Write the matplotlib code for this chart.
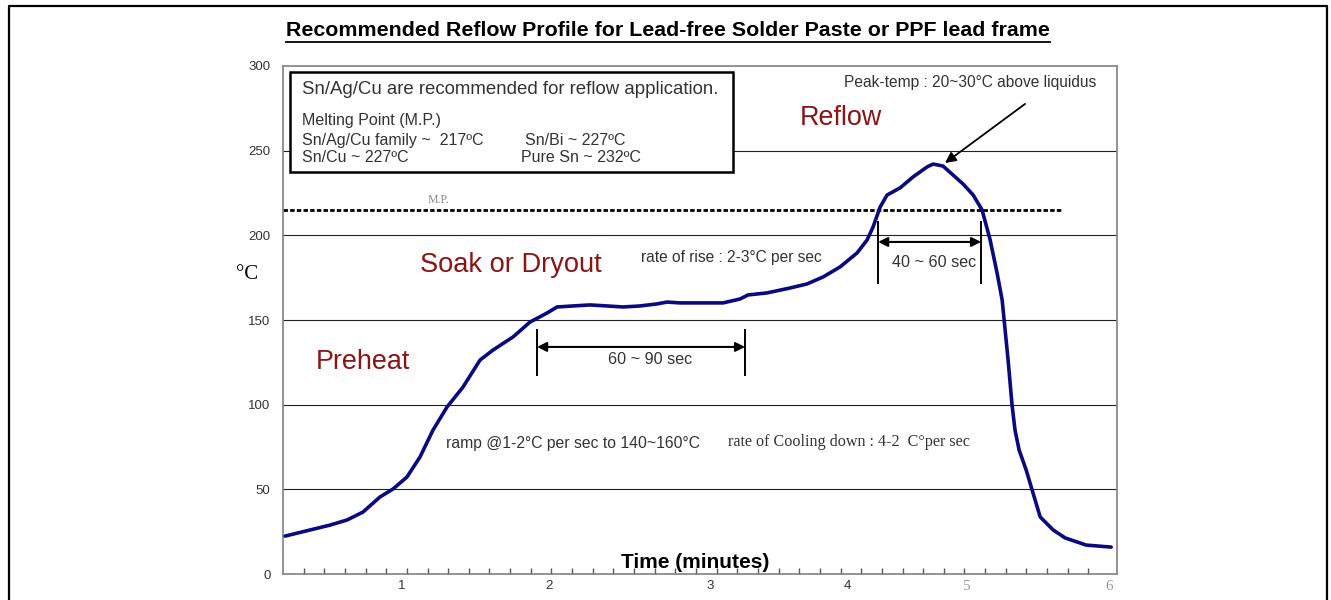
"""
Recommended reflow profile for lead-free solder paste / PPF lead frame.
"""

import numpy as np
import matplotlib
matplotlib.use("Agg")
import matplotlib.pyplot as plt
from matplotlib.patches import Rectangle
from matplotlib.lines import Line2D

plt.rcParams["font.family"] = ["Liberation Sans", "DejaVu Sans"]

# profile: time (minutes) vs temperature (degC)
time_min = [0.173, 0.491, 0.611, 0.724, 0.844, 0.936, 1.035, 1.127, 1.219, 1.318,
            1.431, 1.552, 1.644, 1.785, 1.905, 2.025, 2.096, 2.209, 2.329, 2.450,
            2.563, 2.683, 2.803, 2.874, 2.966, 3.157, 3.270, 3.390, 3.447, 3.581,
            3.744, 3.864, 3.977, 4.097, 4.218, 4.289, 4.331, 4.381, 4.430, 4.522,
            4.614, 4.713, 4.756, 4.826, 4.897, 4.968, 5.039, 5.102, 5.159, 5.208,
            5.244, 5.258, 5.286, 5.314, 5.335, 5.364, 5.414, 5.456, 5.513, 5.605,
            5.690, 5.838, 6.015]
temp_c = [22.4, 28.9, 31.9, 36.6, 45.5, 50.2, 57.3, 69.1, 85.0, 98.6,
          110.4, 126.4, 132.3, 140.0, 148.8, 154.1, 157.7, 158.3, 158.9, 158.3,
          157.7, 158.3, 159.5, 160.6, 160.1, 160.1, 160.1, 162.4, 164.8, 166.0,
          168.9, 171.3, 175.4, 181.3, 189.6, 197.3, 204.9, 216.7, 223.8, 228.0,
          234.5, 240.4, 242.1, 240.9, 235.6, 230.3, 223.8, 215.0, 197.3, 177.8,
          161.8, 150.0, 126.4, 99.8, 85.0, 73.2, 61.4, 49.6, 33.7, 26.0,
          21.3, 17.1, 15.9]

melting_point = 215
y_ticks = [0, 50, 100, 150, 200, 250, 300]
x_tick_pos = [1.0, 2.04, 3.18, 4.147, 4.989, 6.0]
x_tick_labels = ["1", "2", "3", "4", "5", "6"]

DARK = "#333333"
RED = "#8B1414"
NAVY = "#0A0A80"

fig = plt.figure(figsize=(13.31, 6.0), dpi=100)
ax = fig.add_axes([0.2126, 0.0433, 0.6266, 0.8467])

xmin, xmax = 0.158, 6.056
ax.set_xlim(xmin, xmax)
ax.set_ylim(0, 300)

for s in ax.spines.values():
    s.set_color("#808080")
    s.set_linewidth(1.2)

ax.set_yticks(y_ticks)
ax.set_yticklabels([str(v) for v in y_ticks], color=DARK, fontsize=9.5)
ax.tick_params(axis="y", length=0, pad=9)
for v in y_ticks[1:-1]:
    ax.axhline(v, color="#222222", lw=0.8, zorder=1)

ax.set_xticks(x_tick_pos)
ax.set_xticklabels(x_tick_labels)
ax.set_xticks(np.linspace(xmin, 6.0, 41)[1:], minor=True)
ax.tick_params(axis="x", which="major", length=0, pad=4, labelsize=9.5, labelcolor=DARK)
ax.tick_params(axis="x", which="minor", direction="in", length=4, width=1, color="#555555")
for lbl in ax.get_xticklabels()[4:]:
    lbl.set_family("Liberation Serif")
    lbl.set_color("#9a9a9a")
    lbl.set_fontsize(11)

# melting point line
ax.plot([xmin, 5.668], [melting_point, melting_point], color="black", lw=2,
        linestyle=(0, (1.6, 0.8)), zorder=2)
ax.text(1.255, 221, "M.P.", family="Liberation Serif", color="#888888",
        fontsize=8.5, ha="center", va="center")

# profile curve
ax.plot(time_min, temp_c, color=NAVY, lw=2.6, zorder=4, solid_capstyle="round")

# info box
ax.add_patch(Rectangle((0.209, 237.4), 3.131, 59.1, fc="white", ec="black",
                       lw=1.8, zorder=3))
ax.text(0.293, 286.4, "Sn/Ag/Cu are recommended for reflow application.",
        fontsize=13.4, color=DARK, va="center", zorder=5)
ax.text(0.293, 268.1, "Melting Point (M.P.)", fontsize=11.5, color=DARK, va="center", zorder=5)
ax.text(0.293, 256.3, "Sn/Ag/Cu family ~  217ºC", fontsize=11.5, color=DARK, va="center", zorder=5)
ax.text(0.293, 245.7, "Sn/Cu ~ 227ºC", fontsize=11.5, color=DARK, va="center", zorder=5)
ax.text(1.868, 256.3, "Sn/Bi ~ 227ºC", fontsize=11.5, color=DARK, va="center", zorder=5)
ax.text(1.843, 245.7, "Pure Sn ~ 232ºC", fontsize=11.5, color=DARK, va="center", zorder=5)

# phase names
ax.text(4.104, 269.3, "Reflow", fontsize=19.4, color=RED, ha="center", va="center")
ax.text(1.767, 182.5, "Soak or Dryout", fontsize=19.6, color=RED, ha="center", va="center")
ax.text(0.724, 125.2, "Preheat", fontsize=19.4, color=RED, ha="center", va="center")

# notes
ax.text(5.017, 290.0, "Peak-temp : 20~30°C above liquidus", fontsize=11.2,
        color=DARK, ha="center", va="center")
ax.annotate("", xy=(4.840, 242.7), xytext=(5.406, 277.6),
            arrowprops=dict(arrowstyle="-|>", color="black", lw=1.3,
                            mutation_scale=16, shrinkA=0, shrinkB=0))
ax.text(3.326, 187.2, "rate of rise : 2-3°C per sec", fontsize=11.2,
        color=DARK, ha="center", va="center")
ax.text(2.209, 76.8, "ramp @1-2°C per sec to 140~160°C", fontsize=11.3,
        color=DARK, ha="center", va="center")
ax.text(4.161, 78.0, "rate of Cooling down : 4-2  C°per sec", fontsize=11.6,
        family="Liberation Serif", color=DARK, ha="center", va="center")

# duration markers
def span(x0, x1, y, ybar, label, xlab, ylab):
    ax.annotate("", xy=(x0, y), xytext=(x1, y),
                arrowprops=dict(arrowstyle="<|-|>", color="black", lw=1.5,
                                mutation_scale=14, shrinkA=0, shrinkB=0))
    for xb in (x0, x1):
        ax.plot([xb, xb], ybar, color="black", lw=1.4)
    ax.text(xlab, ylab, label, fontsize=11.6, color=DARK,
            ha="center", va="center")

span(1.955, 3.426, 134.1, [117.5, 144.1], "60 ~ 90 sec", 2.754, 126.4)
span(4.367, 5.095, 196.1, [171.9, 207.9], "40 ~ 60 sec", 4.762, 183.7)

ax.text(695 / 1331, 1 - 562 / 600, "Time (minutes)", transform=fig.transFigure,
        fontsize=15, fontweight="bold", ha="center", va="center", color="black")
fig.text(247 / 1331, 1 - 275 / 600, "°C", family="Liberation Serif",
         fontsize=15, ha="center", va="center", color="black")

title = fig.text(668 / 1331, 1 - 31 / 600,
                 "Recommended Reflow Profile for Lead-free Solder Paste or PPF lead frame",
                 fontsize=15.4, fontweight="bold", ha="center", va="center")
fig.canvas.draw()
bb = title.get_window_extent().transformed(fig.transFigure.inverted())
fig.add_artist(Line2D([bb.x0, bb.x1], [bb.y0 - 0.002, bb.y0 - 0.002],
                      transform=fig.transFigure, color="black", lw=1.3))

# outer frame (open at the bottom)
W, H = 1331, 600
frame_x = [9 / W, 9 / W, 1327 / W, 1327 / W]
frame_y = [0, 1 - 6 / H, 1 - 6 / H, 0]
fig.add_artist(Line2D(frame_x, frame_y, transform=fig.transFigure,
                      color="black", lw=1.6))

fig.savefig("out.png", dpi=100)
